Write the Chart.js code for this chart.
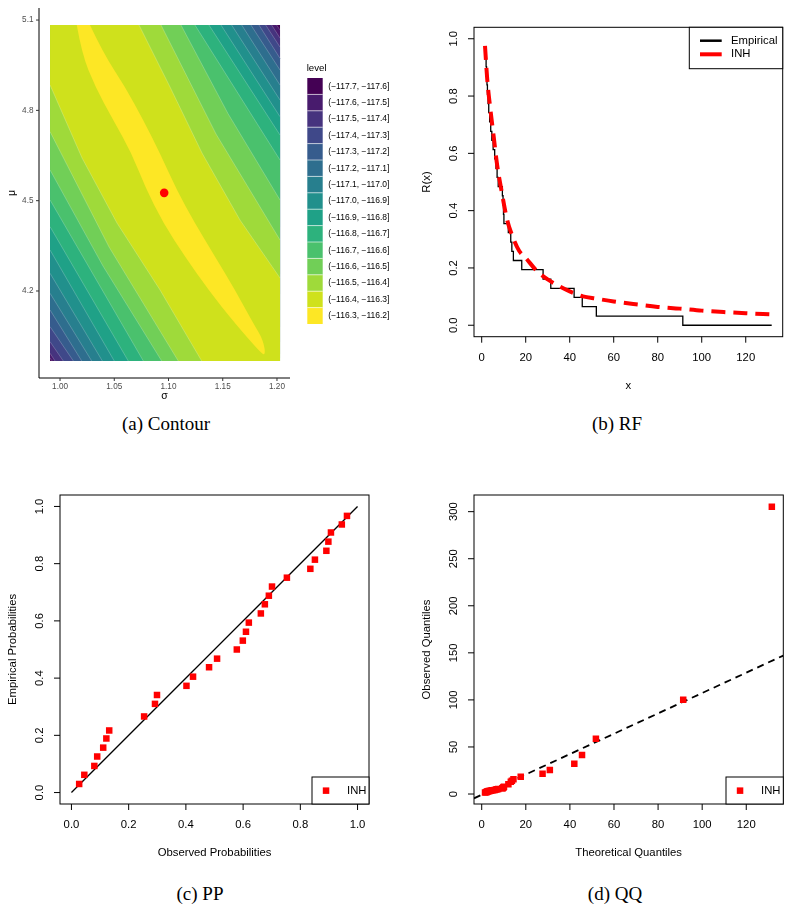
<!DOCTYPE html>
<html>
<head>
<meta charset="utf-8">
<title>Contour, RF, PP, QQ</title>
<script src="https://cdn.jsdelivr.net/npm/chart.js@4.4.1/dist/chart.umd.min.js"></script>
<style>
body{margin:0;background:#fff;}
#page{position:relative;width:801px;height:911px;overflow:hidden;background:#fff;}
canvas{position:absolute;}
.cap{position:absolute;width:300px;text-align:center;font:19px "Liberation Serif","Times New Roman",serif;line-height:20px;color:#000;}
</style>
</head>
<body>
<div id="page">
<canvas id="cA" width="400" height="410" style="left:0;top:0"></canvas>
<canvas id="cB" width="401" height="410" style="left:400px;top:0"></canvas>
<canvas id="cC" width="400" height="400" style="left:0;top:470px"></canvas>
<canvas id="cD" width="401" height="400" style="left:400px;top:470px"></canvas>
<div class="cap" style="left:16px;top:414px">(a) Contour</div>
<div class="cap" style="left:467px;top:414px">(b) RF</div>
<div class="cap" style="left:50px;top:884px">(c) PP</div>
<div class="cap" style="left:465px;top:884px">(d) QQ</div>
</div>
<script>
// ---- (a) contour of the log-likelihood ----
const levelLabels = ['(−117.7, −117.6]', '(−117.6, −117.5]', '(−117.5, −117.4]', '(−117.4, −117.3]',
  '(−117.3, −117.2]', '(−117.2, −117.1]', '(−117.1, −117.0]', '(−117.0, −116.9]', '(−116.9, −116.8]',
  '(−116.8, −116.7]', '(−116.7, −116.6]', '(−116.6, −116.5]', '(−116.5, −116.4]', '(−116.4, −116.3]',
  '(−116.3, −116.2]'];
const levelColors = ['#440154', '#481B6D', '#46337E', '#3F4889', '#365C8D', '#2E6E8E', '#277F8E', '#21908C',
  '#1FA187', '#2DB27D', '#4AC16D', '#71CF57', '#9FDA3A', '#CFE11C', '#FDE725'];
const sigmaTicks = [1.00, 1.05, 1.10, 1.15, 1.20];
const sigmaLabels = ['1.00', '1.05', '1.10', '1.15', '1.20'];
const muTicks = [4.2, 4.5, 4.8, 5.1];
const muLabels = ['4.2', '4.5', '4.8', '5.1'];
const gridSigma = [0.9908, 1.2028];
const gridMu = [3.9675, 5.0834];
// contour k (between level k-1 and k), k = 1..13
// upper-right family: crosses the top edge at topSigma, the right edge at rightMu
const topSigma = [1.1997, 1.1951, 1.1896, 1.1834, 1.1760, 1.1675, 1.1582, 1.1484, 1.1373, 1.1244, 1.1115, 1.0931, 1.0728];
const rightMu = [5.0668, 5.0402, 5.0103, 4.9728, 4.9339, 4.8841, 4.8343, 4.7788, 4.7181, 4.6350, 4.5022, 4.3693, 4.2432];
// lower-left family: crosses the left edge at leftMu, the bottom edge at bottomSigma
const leftMu = [3.9775, 3.9931, 4.0316, 4.0814, 4.1369, 4.1923, 4.2588, 4.3361, 4.4135, 4.5022, 4.6018, 4.7290, 4.8841];
const bottomSigma = [0.9926, 0.9954, 1.0030, 1.0123, 1.0200, 1.0292, 1.0390, 1.0500, 1.0629, 1.0768, 1.0937, 1.1090, 1.1306];
// bends of the inner contours, [sigma, mu], going down
const upperBends = [[], [], [], [], [], [], [], [], [], [], [[1.1548, 4.7895]], [[1.1438, 4.7214]],
  [[1.1014, 4.8775], [1.1309, 4.6583], [1.1659, 4.4358]]];
const lowerBends = [[], [], [], [], [], [], [], [], [], [], [[1.0396, 4.2830]], [[1.0452, 4.3461]],
  [[1.0203, 4.6417], [1.0525, 4.4258], [1.0922, 4.2033]]];
// highest band (-116.3, -116.2]
const topBandSigma = [1.0154, 1.0200, 1.0323, 1.0491, 1.0661, 1.0783, 1.0952, 1.1152, 1.1367, 1.1613, 1.1828, 1.1896,
  1.1874, 1.1782, 1.1613, 1.1429, 1.1244, 1.1076, 1.0922, 1.0768, 1.0599, 1.0399, 1.0276];
const topBandMu = [5.0834, 4.9894, 4.8785, 4.7679, 4.6573, 4.5464, 4.4248, 4.3139, 4.2033, 4.0927, 4.0040, 3.9818,
  4.0372, 4.0927, 4.2033, 4.3139, 4.4248, 4.5354, 4.6573, 4.7679, 4.8785, 4.9894, 5.0834];
const mleSigma = [1.096];
const mleMu = [4.526];

// ---- (b) reliability function ----
const rfStepX = [2.0, 2.2, 2.4, 2.6, 2.9, 3.2, 3.6, 4.1, 4.6, 5.2, 5.9, 6.5, 7.0, 7.5, 9.4, 9.7, 9.9, 10.1, 12.1,
  13.2, 13.7, 14.4, 18.2, 27.9, 31.4, 42.0, 45.7, 52.1, 91.4, 131.8];
const rfStepR = [0.935, 0.903, 0.871, 0.839, 0.806, 0.774, 0.742, 0.710, 0.677, 0.645, 0.613, 0.581, 0.548, 0.516,
  0.484, 0.452, 0.419, 0.387, 0.355, 0.323, 0.290, 0.258, 0.226, 0.194, 0.161, 0.129, 0.097, 0.065, 0.032, 0.000];
const inhX = [1.5, 2.5, 4, 5.5, 7, 9, 11.5, 14, 17, 20, 25, 30, 35, 40, 46, 52, 60, 70, 80, 90, 100, 110, 120, 131.6];
const inhR = [0.975, 0.86, 0.75, 0.655, 0.56, 0.47, 0.37, 0.31, 0.26, 0.235, 0.19, 0.16, 0.137, 0.118, 0.101,
  0.093, 0.083, 0.073, 0.064, 0.058, 0.051, 0.046, 0.042, 0.038];
const xTicks = [0, 20, 40, 60, 80, 100, 120];
const xTickLabels = ['0', '20', '40', '60', '80', '100', '120'];
const probTicks = [0, 0.2, 0.4, 0.6, 0.8, 1.0];
const probLabels = ['0.0', '0.2', '0.4', '0.6', '0.8', '1.0'];

// ---- (c) PP ----
const ppObs = [0.027, 0.045, 0.080, 0.090, 0.111, 0.122, 0.132, 0.254, 0.292, 0.299, 0.402, 0.425, 0.481, 0.509,
  0.578, 0.599, 0.610, 0.620, 0.662, 0.676, 0.690, 0.701, 0.753, 0.835, 0.851, 0.891, 0.898, 0.907, 0.945, 0.963];
const ppEmp = [0.030, 0.062, 0.093, 0.126, 0.157, 0.189, 0.217, 0.266, 0.310, 0.341, 0.373, 0.405, 0.438, 0.468,
  0.500, 0.531, 0.562, 0.594, 0.626, 0.658, 0.688, 0.720, 0.751, 0.782, 0.814, 0.845, 0.877, 0.909, 0.937, 0.967];

// ---- (d) QQ ----
const qqTheo = [1.5, 2.0, 2.2, 2.4, 2.6, 2.9, 3.2, 3.6, 4.1, 4.6, 5.2, 5.9, 6.5, 7.0, 7.5, 9.4, 9.7, 9.9, 10.1, 12.1,
  13.2, 13.7, 14.4, 17.7, 27.6, 30.9, 42.0, 45.5, 51.8, 91.4, 131.6];
const qqObs = [1.5, 1.8, 2.1, 2.4, 2.6, 2.9, 3.1, 3.3, 3.6, 3.9, 4.1, 4.4, 4.8, 5.0, 5.3, 6.0, 6.6, 7.2, 7.8, 10.3,
  13.1, 14.0, 15.6, 18.4, 21.6, 25.5, 32.2, 41.4, 58.8, 100.2, 305.3];
const qqLineX = [-3.5, 136.8];
const qqLineY = [-4.6, 147.1];
const qqTicks = [0, 50, 100, 150, 200, 250, 300];
const qqTickLabels = ['0', '50', '100', '150', '200', '250', '300'];

const zip = (xs, ys) => xs.map((x, i) => ({x: x, y: ys[i]}));
const RFONT = '"Liberation Sans", Arial, sans-serif';

function baseOptions(pad, xr, yr) {
  return {
    responsive: false,
    animation: false,
    events: [],
    layout: {padding: pad},
    plugins: {legend: {display: false}, tooltip: {enabled: false}},
    scales: {
      x: {type: 'linear', display: false, min: xr[0], max: xr[1]},
      y: {type: 'linear', display: false, min: yr[0], max: yr[1]}
    }
  };
}

// R base graphics look: box, ticks outside, y labels turned
function baseAxes(o) {
  return {
    id: 'baseAxes',
    afterDraw(chart) {
      const ctx = chart.ctx, a = chart.chartArea;
      const sx = chart.scales.x, sy = chart.scales.y;
      ctx.save();
      ctx.strokeStyle = '#000';
      ctx.fillStyle = '#000';
      ctx.lineWidth = 1;
      ctx.strokeRect(a.left, a.top, a.right - a.left, a.bottom - a.top);
      ctx.font = '11.3px ' + RFONT;
      ctx.textAlign = 'center';
      ctx.textBaseline = 'middle';
      o.xTicks.forEach(function(v, i) {
        const px = sx.getPixelForValue(v);
        ctx.beginPath(); ctx.moveTo(px, a.bottom); ctx.lineTo(px, a.bottom + 6); ctx.stroke();
        ctx.fillText(o.xLabels[i], px, a.bottom + 20.7);
      });
      o.yTicks.forEach(function(v, i) {
        const py = sy.getPixelForValue(v);
        ctx.beginPath(); ctx.moveTo(a.left, py); ctx.lineTo(a.left - 6, py); ctx.stroke();
        ctx.save(); ctx.translate(a.left - 20, py); ctx.rotate(-Math.PI / 2);
        ctx.fillText(o.yLabels[i], 0, 0);
        ctx.restore();
      });
      ctx.fillText(o.xTitle, (a.left + a.right) / 2, a.bottom + 48.7);
      ctx.save(); ctx.translate(a.left - 47.5, (a.top + a.bottom) / 2); ctx.rotate(-Math.PI / 2);
      ctx.fillText(o.yTitle, 0, 0);
      ctx.restore();
      ctx.restore();
    }
  };
}

// small "INH" legend at the lower right corner (PP and QQ)
function squareLegend(w) {
  return {
    id: 'sqLegend',
    afterDraw(chart) {
      const ctx = chart.ctx, a = chart.chartArea;
      ctx.save();
      ctx.fillStyle = '#fff';
      ctx.fillRect(a.right - w, a.bottom - 27, w, 27);
      ctx.strokeStyle = '#000'; ctx.lineWidth = 1;
      ctx.strokeRect(a.right - w, a.bottom - 27, w, 27);
      ctx.fillStyle = '#FF0000';
      ctx.fillRect(a.right - w + 10.8, a.bottom - 16.6, 6.5, 6.5);
      ctx.fillStyle = '#000';
      ctx.font = '11.3px ' + RFONT;
      ctx.textBaseline = 'middle';
      ctx.fillText('INH', a.right - w + 35, a.bottom - 13.3);
      ctx.restore();
    }
  };
}

// ---------- (a) ----------
function contourPart(i, upper) {
  const pts = [];
  if (upper) {
    pts.push({x: topSigma[i], y: gridMu[1]});
    upperBends[i].forEach(p => pts.push({x: p[0], y: p[1]}));
    pts.push({x: gridSigma[1], y: rightMu[i]});
  } else {
    pts.push({x: gridSigma[0], y: leftMu[i]});
    lowerBends[i].forEach(p => pts.push({x: p[0], y: p[1]}));
    pts.push({x: bottomSigma[i], y: gridMu[0]});
  }
  return pts;
}

// region with level >= k: the grid with both corners cut off
function bandRegion(i) {
  const up = contourPart(i, true);
  const low = contourPart(i, false).reverse();
  return [{x: gridSigma[0], y: gridMu[1]}].concat(up,
    [{x: gridSigma[1], y: gridMu[0]}], low);
}

const bandSets = [{data: [{x: gridSigma[0], y: gridMu[0]}, {x: gridSigma[1], y: gridMu[0]},
  {x: gridSigma[1], y: gridMu[1]}, {x: gridSigma[0], y: gridMu[1]}], bandFill: levelColors[0]}];
for (let i = 0; i < topSigma.length; i++) {
  bandSets.push({data: bandRegion(i), bandFill: levelColors[i + 1]});
}
bandSets.push({data: zip(topBandSigma, topBandMu), bandFill: levelColors[14], smooth: true});
bandSets.forEach(d => { d.pointRadius = 0; d.showLine = false; });

const seamSets = [];
for (let i = 0; i < topSigma.length; i++) {
  [true, false].forEach(function(u) {
    seamSets.push({data: contourPart(i, u), showLine: true, pointRadius: 0,
      borderColor: 'rgba(255,255,255,0.35)', borderWidth: 0.6});
  });
}

const bandFillPlugin = {
  id: 'bandFill',
  beforeDatasetsDraw(chart) {
    const ctx = chart.ctx;
    chart.data.datasets.forEach(function(ds, i) {
      if (!ds.bandFill) return;
      const p = chart.getDatasetMeta(i).data;
      const n = p.length;
      ctx.beginPath();
      ctx.moveTo(p[0].x, p[0].y);
      if (ds.smooth) {
        // round the inner corners, keep the two ends on the grid edge
        for (let j = 1; j < n - 2; j++) {
          ctx.quadraticCurveTo(p[j].x, p[j].y, (p[j].x + p[j + 1].x) / 2, (p[j].y + p[j + 1].y) / 2);
        }
        ctx.quadraticCurveTo(p[n - 2].x, p[n - 2].y, p[n - 1].x, p[n - 1].y);
      } else {
        for (let j = 1; j < n; j++) ctx.lineTo(p[j].x, p[j].y);
      }
      ctx.closePath();
      ctx.fillStyle = ds.bandFill;
      ctx.fill();
    });
  }
};

// ggplot classic theme axes + legend
const ggAxes = {
  id: 'ggAxes',
  afterDraw(chart) {
    const ctx = chart.ctx, a = chart.chartArea;
    const sx = chart.scales.x, sy = chart.scales.y;
    ctx.save();
    ctx.strokeStyle = '#000'; ctx.lineWidth = 1;
    ctx.beginPath();
    ctx.moveTo(a.left, a.top); ctx.lineTo(a.left, a.bottom); ctx.lineTo(a.right, a.bottom);
    ctx.stroke();
    ctx.strokeStyle = '#333';
    ctx.fillStyle = '#4D4D4D';
    ctx.font = '8.2px ' + RFONT;
    ctx.textAlign = 'center'; ctx.textBaseline = 'middle';
    sigmaTicks.forEach(function(v, i) {
      const px = sx.getPixelForValue(v);
      ctx.beginPath(); ctx.moveTo(px, a.bottom); ctx.lineTo(px, a.bottom + 3); ctx.stroke();
      ctx.fillText(sigmaLabels[i], px, a.bottom + 8.5);
    });
    ctx.textAlign = 'right';
    muTicks.forEach(function(v, i) {
      const py = sy.getPixelForValue(v);
      ctx.beginPath(); ctx.moveTo(a.left, py); ctx.lineTo(a.left - 3, py); ctx.stroke();
      ctx.fillText(muLabels[i], a.left - 5.5, py);
    });
    ctx.fillStyle = '#000';
    ctx.font = '10.5px ' + RFONT;
    ctx.textAlign = 'center';
    ctx.fillText('σ', (a.left + a.right) / 2, a.bottom + 18);
    ctx.save(); ctx.translate(a.left - 27, (a.top + a.bottom) / 2); ctx.rotate(-Math.PI / 2);
    ctx.fillText('μ', 0, 0);
    ctx.restore();
    // legend
    const lx = 307.3, ly = 78, kh = 16.4;
    ctx.textAlign = 'left';
    ctx.font = '9.7px ' + RFONT;
    ctx.fillText('level', 306.7, 68);
    ctx.font = '8.5px ' + RFONT;
    levelLabels.forEach(function(lab, i) {
      ctx.fillStyle = levelColors[i];
      ctx.fillRect(lx, ly + i * kh, 15.4, kh);
      ctx.fillStyle = '#000';
      ctx.fillText(lab, 328.3, ly + (i + 0.5) * kh);
    });
    ctx.strokeStyle = '#fff'; ctx.lineWidth = 0.6;
    for (let i = 1; i < levelLabels.length; i++) {
      ctx.beginPath(); ctx.moveTo(lx, ly + i * kh); ctx.lineTo(lx + 15.4, ly + i * kh); ctx.stroke();
    }
    ctx.restore();
  }
};

new Chart(document.getElementById('cA'), {
  type: 'scatter',
  data: {
    datasets: [{data: zip(mleSigma, mleMu), pointRadius: 4.3, backgroundColor: '#FF0000', borderWidth: 0}]
      .concat(seamSets, bandSets)
  },
  options: baseOptions({left: 39, top: 8, right: 110, bottom: 32}, [0.9806, 1.2120], [3.911, 5.140]),
  plugins: [bandFillPlugin, ggAxes]
});

// ---------- (b) ----------
const rfLegend = {
  id: 'rfLegend',
  afterDraw(chart) {
    const ctx = chart.ctx, a = chart.chartArea;
    ctx.save();
    ctx.fillStyle = '#fff';
    ctx.fillRect(a.right - 93.4, a.top, 93.4, 41.4);
    ctx.strokeStyle = '#000'; ctx.lineWidth = 1;
    ctx.strokeRect(a.right - 93.4, a.top, 93.4, 41.4);
    ctx.lineWidth = 2.5;
    ctx.beginPath(); ctx.moveTo(a.right - 82.7, a.top + 13.4); ctx.lineTo(a.right - 61, a.top + 13.4); ctx.stroke();
    ctx.strokeStyle = '#FF0000'; ctx.lineWidth = 4;
    ctx.beginPath(); ctx.moveTo(a.right - 82.7, a.top + 27); ctx.lineTo(a.right - 61, a.top + 27); ctx.stroke();
    ctx.fillStyle = '#000';
    ctx.font = '11.3px ' + RFONT;
    ctx.textBaseline = 'middle';
    ctx.fillText('Empirical', a.right - 51.7, a.top + 13.4);
    ctx.fillText('INH', a.right - 51.7, a.top + 27);
    ctx.restore();
  }
};

new Chart(document.getElementById('cB'), {
  type: 'scatter',
  data: {
    datasets: [
      {label: 'INH', data: zip(inhX, inhR), showLine: true, pointRadius: 0, borderColor: '#FF0000',
        borderWidth: 4, borderDash: [14, 8], cubicInterpolationMode: 'monotone'},
      {label: 'Empirical', data: zip(rfStepX, rfStepR), showLine: true, stepped: 'after', pointRadius: 0,
        borderColor: '#000', borderWidth: 1.3}
    ]
  },
  options: baseOptions({left: 74, top: 27.3, right: 18.3, bottom: 73.3}, [-3.5, 136.8], [-0.04, 1.04]),
  plugins: [baseAxes({xTicks: xTicks, xLabels: xTickLabels, yTicks: probTicks, yLabels: probLabels,
    xTitle: 'x', yTitle: 'R(x)'}), rfLegend]
});

// ---------- (c) ----------
new Chart(document.getElementById('cC'), {
  type: 'scatter',
  data: {
    datasets: [
      {label: 'INH', data: zip(ppObs, ppEmp), pointStyle: 'rect', pointRadius: 4.6, backgroundColor: '#FF0000',
        borderWidth: 0},
      {data: [{x: 0, y: 0}, {x: 1, y: 1}], showLine: true, pointRadius: 0, borderColor: '#000', borderWidth: 1.3}
    ]
  },
  options: baseOptions({left: 60, top: 25, right: 31, bottom: 66}, [-0.04, 1.04], [-0.04, 1.04]),
  plugins: [baseAxes({xTicks: probTicks, xLabels: probLabels, yTicks: probTicks, yLabels: probLabels,
    xTitle: 'Observed Probabilities', yTitle: 'Empirical Probabilities'}), squareLegend(57)]
});

// ---------- (d) ----------
new Chart(document.getElementById('cD'), {
  type: 'scatter',
  data: {
    datasets: [
      {label: 'INH', data: zip(qqTheo, qqObs), pointStyle: 'rect', pointRadius: 4.6, backgroundColor: '#FF0000',
        borderWidth: 0},
      {data: zip(qqLineX, qqLineY), showLine: true, pointRadius: 0, borderColor: '#000', borderWidth: 1.8,
        borderDash: [7, 5]}
    ]
  },
  options: baseOptions({left: 74, top: 25, right: 17.7, bottom: 66}, [-3.5, 136.8], [-10.6, 317.7]),
  plugins: [baseAxes({xTicks: xTicks, xLabels: xTickLabels, yTicks: qqTicks, yLabels: qqTickLabels,
    xTitle: 'Theoretical Quantiles', yTitle: 'Observed Quantiles'}), squareLegend(57.3)]
});
</script>
</body>
</html>
